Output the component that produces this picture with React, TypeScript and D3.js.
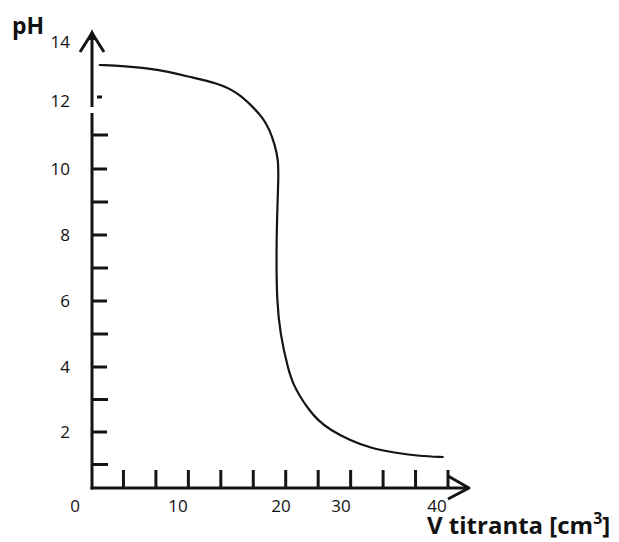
import React from 'react';
import * as d3 from 'd3';

// Titration curve data
const VOLUME = [2.4, 4.7, 8.0, 11.2, 13.8, 15.7, 17.3, 18.25, 18.9, 19.4, 19.75, 19.75, 19.6, 19.55, 19.6, 19.9, 21.2, 22.1, 23.2, 24.6, 26.1, 28.2, 30.9, 33.0, 35.8, 38.2, 40.6];
const PH = [13.22, 13.19, 13.08, 12.81, 12.61, 12.31, 11.82, 11.5, 11.15, 10.71, 10.26, 9.67, 8.45, 7.24, 6.03, 5.03, 3.91, 3.45, 3.08, 2.7, 2.37, 2.06, 1.75, 1.51, 1.35, 1.26, 1.23];

const X_TICK_LABELS = [0, 10, 20, 30, 40];
const Y_TICK_LABELS = [2, 4, 6, 8, 10, 12, 14];
const Y_MINOR_TICKS = [1, 2, 3, 4, 5, 6, 7, 8, 9, 10, 11];
const Y_SHORT_TICKS = [12];
const X_MINOR_TICKS = [1, 2, 3, 4, 5, 6, 7, 8, 9, 10, 11];

const W = 619;
const H = 542;
const ORIGIN_X = 92;
const AXIS_Y = 488;

export default function App() {
  const x = d3.scaleLinear().domain(X_TICK_LABELS).range([75, 178, 281, 341, 437]);
  const y = d3.scaleLinear().domain(Y_TICK_LABELS).range([432, 367, 301, 235, 169, 101, 42]);
  const xMinor = d3.scaleLinear().domain([0, 11]).range([91, 448]);

  const pts: [number, number][] = VOLUME.map((v, i) => [v, PH[i]]);
  const line = d3
    .line<[number, number]>()
    .x((d) => x(d[0]))
    .y((d) => y(d[1]))
    .curve(d3.curveBasis);

  const font = "'Open Sans', 'Liberation Sans', sans-serif";
  const stroke = '#141414';

  return (
    <svg width={W} height={H} style={{ position: 'absolute', left: 0, top: 0, background: '#fff' }}>
      {/* Y axis (with a small hand-drawn gap) */}
      <line x1={ORIGIN_X} x2={ORIGIN_X} y1={36} y2={107} stroke={stroke} strokeWidth={3} />
      <line x1={ORIGIN_X} x2={ORIGIN_X} y1={113} y2={AXIS_Y + 1.5} stroke={stroke} strokeWidth={3} />
      {/* Y arrow head */}
      <polyline points={`${ORIGIN_X - 12},52 ${ORIGIN_X},33 ${ORIGIN_X + 12},52`} fill="none" stroke={stroke} strokeWidth={3} strokeLinejoin="round" />
      <polygon points={`${ORIGIN_X - 4.5},40 ${ORIGIN_X},29 ${ORIGIN_X + 4.5},40`} fill={stroke} />

      {/* X axis */}
      <line x1={ORIGIN_X - 1.5} x2={468} y1={AXIS_Y} y2={AXIS_Y} stroke={stroke} strokeWidth={3} />
      <polyline points={`448,476 469,488 448,499`} fill="none" stroke={stroke} strokeWidth={3} strokeLinejoin="round" />

      {/* Y ticks */}
      {Y_MINOR_TICKS.map((t) => (
        <line key={'yt' + t} x1={ORIGIN_X} x2={ORIGIN_X + (t % 2 === 0 ? 15 : 16)} y1={y(t)} y2={y(t)} stroke={stroke} strokeWidth={3} />
      ))}
      {Y_SHORT_TICKS.map((t) => (
        <line key={'ys' + t} x1={ORIGIN_X + 5} x2={ORIGIN_X + 10} y1={y(t) - 4} y2={y(t) - 4} stroke={stroke} strokeWidth={3} />
      ))}

      {/* X ticks */}
      {X_MINOR_TICKS.map((k) => (
        <line key={'xt' + k} x1={xMinor(k)} x2={xMinor(k)} y1={AXIS_Y - 18} y2={AXIS_Y} stroke={stroke} strokeWidth={3} />
      ))}

      {/* Y labels */}
      {Y_TICK_LABELS.map((t) => (
        <text key={'yl' + t} x={70} y={y(t)} dy="0.36em" textAnchor="end" fontFamily={font} fontSize={17} fill="#111">
          {t}
        </text>
      ))}

      {/* X labels */}
      {X_TICK_LABELS.map((t) => (
        <text key={'xl' + t} x={x(t)} y={512} textAnchor="middle" fontFamily={font} fontSize={17} fill="#111">
          {t}
        </text>
      ))}

      {/* Curve */}
      <path d={line(pts) || ''} fill="none" stroke={stroke} strokeWidth={2.2} strokeLinecap="round" />

      {/* Axis titles */}
      <text x={12} y={34} fontFamily={font} fontSize={23} fontWeight="bold" fill="#111">
        pH
      </text>
      <text x={427} y={534} fontFamily={font} fontSize={24} fontWeight="bold" fill="#111">
        V titranta [cm
        <tspan fontSize={16} dy={-10}>3</tspan>
        <tspan dy={10}>]</tspan>
      </text>
    </svg>
  );
}
